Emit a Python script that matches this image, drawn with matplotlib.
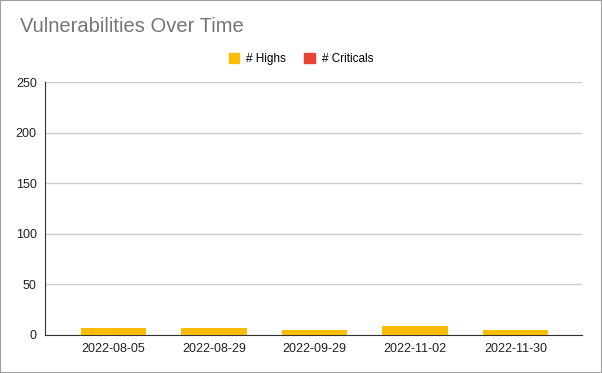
import numpy as np
import matplotlib
matplotlib.use("Agg")
import matplotlib.pyplot as plt
from matplotlib.patches import Rectangle, Patch

plt.rcParams['font.family'] = ['Liberation Sans', 'DejaVu Sans']

dates = ['2022-08-05', '2022-08-29', '2022-09-29', '2022-11-02', '2022-11-30']
highs = [7, 7, 5, 9, 5]
criticals = [0, 0, 0, 0, 0]
yticks = [0, 50, 100, 150, 200, 250]

c_high = '#fbbc04'
c_crit = '#ea4335'

fig = plt.figure(figsize=(6.02, 3.73), dpi=100)
fig.patches.append(Rectangle((0, 0), 1, 1, transform=fig.transFigure,
                             fill=False, edgecolor='#9e9e9e', linewidth=1.5))
ax = fig.add_axes([0.0748, 0.1019, 0.892, 0.678])

x = np.arange(len(dates))
ax.bar(x, highs, width=0.65, color=c_high, zorder=3)
ax.bar(x, criticals, width=0.65, bottom=highs, color=c_crit, zorder=3)

ax.set_xlim(-0.68, 4.66)
ax.set_ylim(0, 250)
ax.set_yticks(yticks)
ax.set_xticks(x)
ax.set_xticklabels(dates)
ax.grid(axis='y', color='#cccccc', linewidth=1, zorder=0)
for s in ['top', 'right']:
    ax.spines[s].set_visible(False)
ax.spines['left'].set_color('#333333')
ax.spines['bottom'].set_color('#333333')
ax.tick_params(length=0, labelsize=9, colors='#222222', pad=6)

fig.text(0.033, 0.93, 'Vulnerabilities Over Time', fontsize=14.5, color='#757575',
         va='center', ha='left')
handles = [Patch(color=c_high, label='# Highs'), Patch(color=c_crit, label='# Criticals')]
fig.legend(handles=handles, loc='center', bbox_to_anchor=(0.5, 0.842), ncol=2,
           frameon=False, fontsize=8.5, handlelength=0.9, handleheight=0.9,
           columnspacing=1.5, handletextpad=0.6)

fig.savefig('out.png', dpi=100)
